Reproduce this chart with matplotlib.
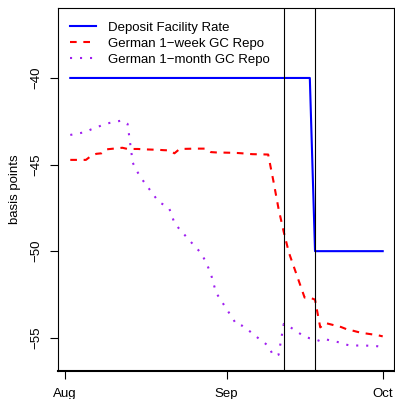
import datetime as dt
import matplotlib
matplotlib.use('Agg')
from matplotlib import pyplot as plt
import matplotlib.dates as mdates

plt.rcParams['font.family'] = ['Liberation Sans', 'DejaVu Sans']

# business days Aug 2 - Oct 1
days = ['2019-08-02', '2019-08-05', '2019-08-06', '2019-08-07', '2019-08-08', '2019-08-09',
        '2019-08-12', '2019-08-13', '2019-08-14', '2019-08-15', '2019-08-16',
        '2019-08-19', '2019-08-20', '2019-08-21', '2019-08-22', '2019-08-23',
        '2019-08-26', '2019-08-27', '2019-08-28', '2019-08-29', '2019-08-30',
        '2019-09-02', '2019-09-03', '2019-09-04', '2019-09-05', '2019-09-06',
        '2019-09-09', '2019-09-10', '2019-09-11', '2019-09-12', '2019-09-13',
        '2019-09-16', '2019-09-17', '2019-09-18', '2019-09-19', '2019-09-20',
        '2019-09-23', '2019-09-24', '2019-09-25', '2019-09-26', '2019-09-27',
        '2019-09-30', '2019-10-01']
dfr = [-40]*33 + [-50]*10
repo_1w = [-44.73, -44.73, -44.5, -44.38, -44.35, -44.12,
           -44.03, -44.1, -44.1, -44.1, -44.12,
           -44.15, -44.17, -44.18, -44.35, -44.1,
           -44.08, -44.08, -44.08, -44.28, -44.3,
           -44.32, -44.33, -44.35, -44.38, -44.4,
           -44.42, -45.94, -47.56, -48.9, -50.1,
           -52.68, -52.68, -52.8, -54.4, -54.15,
           -54.38, -54.5, -54.57, -54.65, -54.72,
           -54.85, -54.92]
repo_1m = [-43.29, -43.12, -42.97, -42.86, -42.74, -42.63,
           -42.45, -42.65, -44.9, -45.48, -45.94,
           -47.16, -47.33, -47.53, -48.37, -48.74,
           -49.75, -50.07, -50.59, -51.31, -52.4,
           -53.8, -54.27, -54.3, -54.5, -54.77,
           -55.46, -56.04, -55.98, -54.2, -54.34,
           -54.94, -55.03, -55.08, -55.2, -55.09,
           -55.29, -55.4, -55.46, -55.45, -55.44,
           -55.49, -55.55]
events = ['2019-09-12', '2019-09-18']
xticks = ['2019-08-01', '2019-09-01', '2019-10-01']
xlabels = ['Aug', 'Sep', 'Oct']
yticks = [-55, -50, -45, -40]

dates = [dt.datetime.strptime(d, '%Y-%m-%d') for d in days]

fig = plt.figure(figsize=(3.95, 3.99), dpi=100)
ax = fig.add_axes([57.7/395, 28/399, (394-57.7)/395, 363/399])

ax.plot(dates, dfr, color='blue', lw=1.5, label='Deposit Facility Rate')
ax.plot(dates, repo_1w, color='red', lw=1.5, dashes=(3.2, 3.2), label='German 1\u2212week GC Repo')
ax.plot(dates, repo_1m, color='#A020F0', lw=1.5, dashes=(1, 3.8), label='German 1\u2212month GC Repo')
for e in events:
    ax.axvline(dt.datetime.strptime(e, '%Y-%m-%d'), color='black', lw=0.8)

ax.set_xlim(dt.datetime(2019, 7, 30, 14), dt.datetime(2019, 10, 3, 4))
ax.set_ylim(-56.92, -35.96)
ax.set_xticks([dt.datetime.strptime(d, '%Y-%m-%d') for d in xticks])
ax.set_xticklabels(xlabels)
ax.set_yticks(yticks)
ax.set_yticklabels([str(v).replace('-', '\u2212') for v in yticks], rotation=90, va='center')
ax.tick_params(axis='both', length=6, width=0.8, labelsize=9.5, direction='out')
ax.tick_params(axis='x', pad=6.5)
ax.tick_params(axis='y', pad=5)
for s in ax.spines.values():
    s.set_linewidth(0.8)
ax.spines['bottom'].set_linewidth(1.5)
ax.set_ylabel('basis points', fontsize=9.5, labelpad=7)

ax.legend(loc='upper left', frameon=False, fontsize=9.5, handlelength=1.95,
          handletextpad=0.9, labelspacing=0.3, borderaxespad=0.2, bbox_to_anchor=(0.013, 0.985))

plt.savefig('out.png', dpi=100)
plt.close()
